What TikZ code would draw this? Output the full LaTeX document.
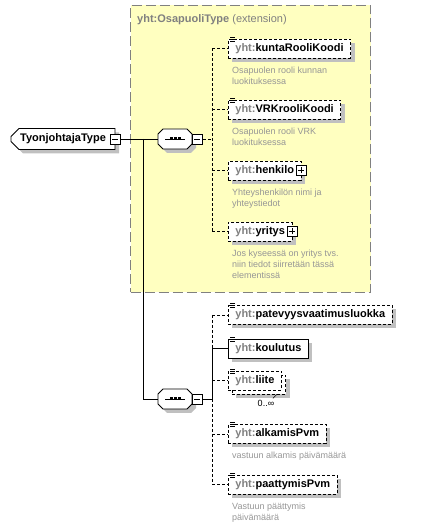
\documentclass[tikz,border=0pt]{standalone}
\usepackage{fontspec}
\setmainfont{Liberation Sans}
\usetikzlibrary{positioning, shapes.misc, shadows}

\definecolor{xsdyellow}{RGB}{255,255,192}
\definecolor{xsdgray}{RGB}{128,128,128}
\definecolor{xsdshadow}{RGB}{192,192,192}
\definecolor{xsddesc}{RGB}{150,150,150}

\newcommand{\yht}[1]{{\color{xsdgray}yht:}#1}

\begin{document}
\begin{tikzpicture}[x=1pt,y=1pt,node distance=10pt]
            \tikzset{shade/.style={general shadow={fill=xsdshadow,shadow xshift=4pt,shadow yshift=-4pt}}}
            \tikzset{box/.style={draw,fill=white,line width=0.8pt,font=\fontsize{11}{13}\selectfont\bfseries,minimum height=19pt,inner xsep=7pt,inner ysep=2pt,anchor=west}}
            \tikzset{elem/.style={box,shade}}
            \tikzset{optelem/.style={elem,dash pattern=on 3pt off 2pt}}
            \tikzset{desc/.style={font=\fontsize{9}{11}\selectfont,text=xsddesc,align=left,inner sep=0pt}}
            \tikzset{conn/.style={line width=0.8pt}}
            \tikzset{optconn/.style={conn,dash pattern=on 3pt off 2pt}}
            \tikzset{collapse/.style={draw,fill=white,line width=0.8pt,minimum size=10pt,inner sep=0pt,
                path picture={\draw[line width=0.8pt] ([xshift=-3pt]path picture bounding box.center) -- ([xshift=3pt]path picture bounding box.center);}}}
            \tikzset{expand/.style={draw,fill=white,line width=0.8pt,minimum size=10pt,inner sep=0pt,
                path picture={\draw[line width=0.8pt] ([xshift=-3pt]path picture bounding box.center) -- ([xshift=3pt]path picture bounding box.center)
                ([yshift=-3pt]path picture bounding box.center) -- ([yshift=3pt]path picture bounding box.center);}}}
            \tikzset{seq/.style={minimum width=34pt,minimum height=20pt,inner sep=0pt,outer sep=0pt}}
            \tikzset{seqmark/.style={line width=0.8pt}}
            \tikzset{typebox/.style={chamfered rectangle,chamfered rectangle corners={north west,south west},chamfered rectangle sep=4pt,
                draw,fill=white,line width=0.8pt,shade,font=\fontsize{11}{13}\selectfont\bfseries,minimum width=104pt,minimum height=21pt,inner sep=0pt}}
            \tikzset{listicon/.style={line width=0.6pt}}

            \useasboundingbox (0,0) rectangle (427,528);

            % extension
            \node[draw=xsdgray,line width=1pt,dash pattern=on 10pt off 4pt,fill=xsdyellow,minimum width=240pt,minimum height=287pt,anchor=north west] (ext) at (130,523) {};
            \node[anchor=base west,inner sep=0pt,text=xsdgray,font=\fontsize{11}{13}\selectfont] (exttitle) at (137,505) {\textbf{yht:OsapuoliType} (extension)};

            \node[typebox] (type) at (63,389) {TyonjohtajaType\hspace{8pt}};
            \node[collapse] (typem) at (type.east) {};

            \node[seq] (seqa) at (175,389) {};
            \node[seq] (seqb) at (175,129) {};
            \foreach \s in {seqa,seqb} {
                \fill[xsdshadow,transform canvas={shift={(4pt,-4pt)}}]
                    ([xshift=5pt]\s.north west) -- ([xshift=-5pt]\s.north east) -- ([yshift=-5pt]\s.north east)
                    -- ([yshift=5pt]\s.south east) -- ([xshift=-5pt]\s.south east) -- ([xshift=5pt]\s.south west)
                    -- ([yshift=5pt]\s.south west) -- ([yshift=-5pt]\s.north west) -- cycle;
                \filldraw[line width=0.8pt,fill=white]
                    ([xshift=5pt]\s.north west) -- ([xshift=-5pt]\s.north east) -- ([yshift=-5pt]\s.north east)
                    -- ([yshift=5pt]\s.south east) -- ([xshift=-5pt]\s.south east) -- ([xshift=5pt]\s.south west)
                    -- ([yshift=5pt]\s.south west) -- ([yshift=-5pt]\s.north west) -- cycle;
                \draw[seqmark] ([xshift=-10pt]\s.center) -- ([xshift=10pt]\s.center);
                \foreach \dx in {-4,0,4}
                    \fill ([shift={(\dx pt-1.5pt,-1.5pt)}]\s.center) rectangle +(3pt,3pt);
            }
            \node[collapse,anchor=west] (seqam) at (seqa.east) {};
            \node[collapse,anchor=west] (seqbm) at (seqb.east) {};

            \coordinate (fork) at (143,389);
            \coordinate (busa) at (212,389);
            \coordinate (busb) at (212,129);

            % first sequence
            \node[optelem] (kunta) at (228,479.5) {\yht{kuntaRooliKoodi}};
            \node[optelem,below=61pt of kunta.west,anchor=west] (vrk) {\yht{VRKrooliKoodi}};
            \node[optelem,below=61pt of vrk.west,anchor=west] (henkilo) {\yht{henkilo}\hspace{5pt}};
            \node[optelem,below=61pt of henkilo.west,anchor=west] (yritys) {\yht{yritys}\hspace{5pt}};
            \node[expand] (henkilop) at (henkilo.east) {};
            \node[expand] (yritysp) at (yritys.east) {};

            \node[desc,below=8pt of kunta.south west,anchor=north west,xshift=4pt] (kuntadesc) {Osapuolen rooli kunnan\\luokituksessa};
            \node[desc,below=8pt of vrk.south west,anchor=north west,xshift=4pt] (vrkdesc) {Osapuolen rooli VRK\\luokituksessa};
            \node[desc,below=8pt of henkilo.south west,anchor=north west,xshift=4pt] (henkilodesc) {Yhteyshenkilön nimi ja\\yhteystiedot};
            \node[desc,below=8pt of yritys.south west,anchor=north west,xshift=4pt] (yritysdesc) {Jos kyseessä on yritys tvs.\\niin tiedot siirretään tässä\\elementissä};

            % second sequence
            \node[optelem] (pat) at (228,213) {\yht{patevyysvaatimusluokka}};
            \node[elem,below=33.5pt of pat.west,anchor=west] (kou) {\yht{koulutus}};
            \node[optelem] (liitemany) at (232,143.5) {\phantom{\yht{liite}}};
            \node[box,dash pattern=on 3pt off 2pt] (liite) at (228,147.5) {\yht{liite}};
            \node[optelem] (alk) at (228,94) {\yht{alkamisPvm}};
            \node[optelem,below=50.5pt of alk.west,anchor=west] (paat) {\yht{paattymisPvm}};
            \node[inner sep=0pt,font=\fontsize{9}{11}\selectfont,below=6pt of liitemany.south,xshift=7pt] (liiteocc) {0..∞};
            \draw[line width=0.6pt] ([xshift=-9pt]liitemany.south east) -- ([xshift=-13pt,yshift=-4pt]liitemany.south east);

            \node[desc,below=8pt of alk.south west,anchor=north west,xshift=4pt] (alkdesc) {vastuun alkamis päivämäärä};
            \node[desc,below=8pt of paat.south west,anchor=north west,xshift=4pt] (paatdesc) {Vastuun päättymis\\päivämäärä};

            % list icons
            \foreach \n in {kunta,vrk,pat,kou,liite,alk,paat}
                \draw[listicon] ([shift={(2pt,1.5pt)}]\n.north west) -- +(5pt,0)
                    ([shift={(2pt,-0.5pt)}]\n.north west) -- +(5pt,0)
                    ([shift={(2pt,-2.5pt)}]\n.north west) -- +(5pt,0);

            % connectors
            \draw[conn] (typem.east) -- (seqa.west);
            \draw[conn] (fork) |- (seqb.west);
            \draw[optconn] (seqam.east) -- (busa);
            \draw[optconn] (kunta.west -| busa) -- (yritys.west -| busa);
            \foreach \n in {kunta,vrk,henkilo,yritys}
                \draw[optconn] (\n.west -| busa) -- (\n.west);

            \draw[conn] (seqbm.east) -- (busb);
            \draw[optconn] (pat.west -| busb) -- (kou.west -| busb);
            \draw[conn] (kou.west -| busb) -- (busb);
            \draw[optconn] (busb) -- (paat.west -| busb);
            \draw[conn] (kou.west -| busb) -- (kou.west);
            \foreach \n in {pat,liite,alk,paat}
                \draw[optconn] (\n.west -| busb) -- (\n.west);

\end{tikzpicture}
\end{document}
